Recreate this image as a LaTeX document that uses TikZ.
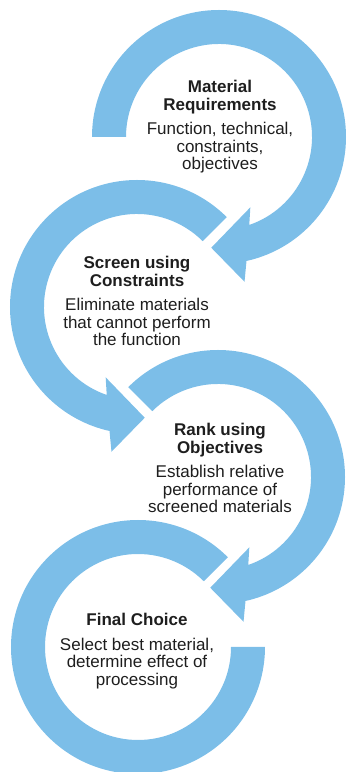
\documentclass[tikz,border=0pt]{standalone}
\usepackage{fontspec}
\setmainfont{Liberation Sans}
\usetikzlibrary{calc}
\definecolor{ringblue}{RGB}{124,190,232}
\definecolor{inkgray}{RGB}{30,30,30}

\begin{document}
\begin{tikzpicture}[x=1pt,y=1pt,
    ring/.style={fill=ringblue,draw=none},
    stage/.style={anchor=north,inner sep=0pt,align=center,text=inkgray,
        font=\fontsize{17}{17.5}\selectfont}]
    \useasboundingbox (0,0) rectangle (346,772);
    \coordinate (c1) at (219,635);
    \coordinate (c2) at (137,465);
    \coordinate (c3) at (218,295);
    \coordinate (c4) at (138,125);
    \fill[ring] ($(c1)+(180:127pt)$) arc[start angle=180,end angle=-77.5,radius=127pt]
        -- ($(c1)+(-80:147pt)$) -- ($(c1)+(-94:111pt)$) -- ($(c1)+(-66:77pt)$)
        -- ($(c1)+(-71:93pt)$) arc[start angle=-71,end angle=180,radius=93pt] -- cycle;
    \fill[ring] ($(c2)+(45:127pt)$) arc[start angle=45,end angle=257.5,radius=127pt]
        -- ($(c2)+(260:147pt)$) -- ($(c2)+(274:111pt)$) -- ($(c2)+(246:77pt)$)
        -- ($(c2)+(251:93pt)$) arc[start angle=251,end angle=45,radius=93pt] -- cycle;
    \fill[ring] ($(c3)+(135:127pt)$) arc[start angle=135,end angle=-77.5,radius=127pt]
        -- ($(c3)+(-80:147pt)$) -- ($(c3)+(-94:111pt)$) -- ($(c3)+(-66:77pt)$)
        -- ($(c3)+(-71:93pt)$) arc[start angle=-71,end angle=135,radius=93pt] -- cycle;
    \fill[ring] ($(c4)+(45:127pt)$) arc[start angle=45,end angle=360,radius=127pt]
        -- ($(c4)+(0:93pt)$) arc[start angle=360,end angle=45,radius=93pt] -- cycle;
    \node[stage] (req) at (220,692) {\textbf{Material}\\\textbf{Requirements}\\[7pt]
        Function, technical,\\constraints,\\objectives};
    \node[stage] (screen) at (137,516) {\textbf{Screen using}\\\textbf{Constraints}\\[7pt]
        Eliminate materials\\that cannot perform\\the function};
    \node[stage] (rank) at (220,349) {\textbf{Rank using}\\\textbf{Objectives}\\[7pt]
        Establish relative\\performance of\\screened materials};
    \node[stage] (choice) at (137,159) {\textbf{Final Choice}\\[7pt]
        Select best material,\\determine effect of\\processing};
\end{tikzpicture}
\end{document}
